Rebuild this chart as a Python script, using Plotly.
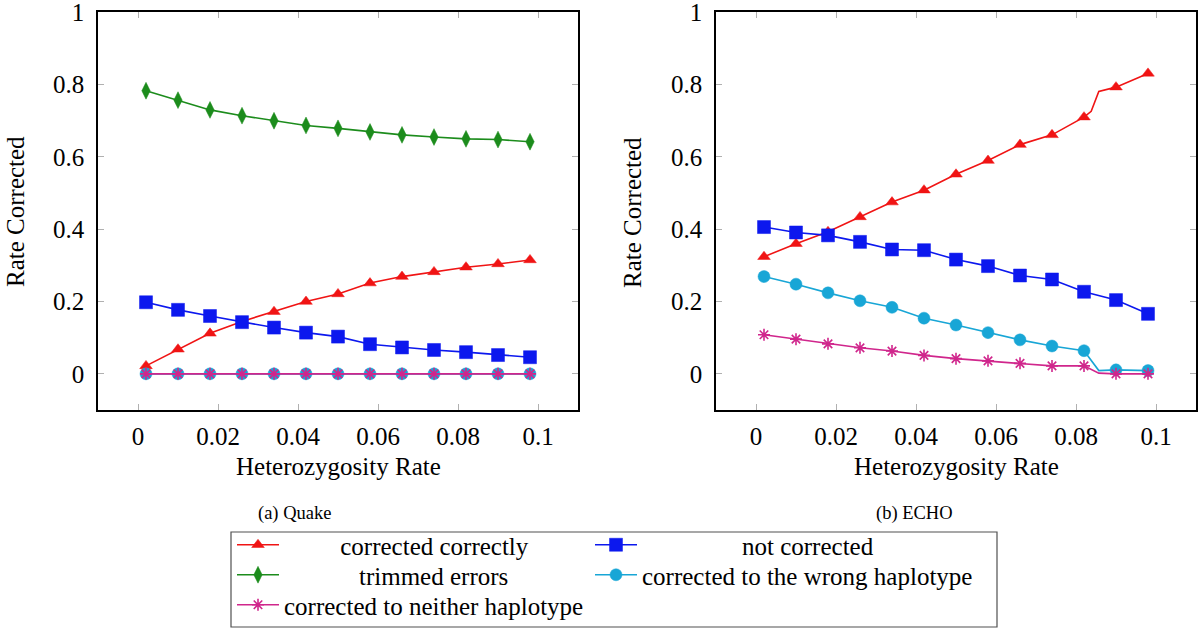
import plotly.graph_objects as go

# ---------------- data ----------------
het_rate = [0.002, 0.010, 0.018, 0.026, 0.034, 0.042, 0.050,
            0.058, 0.066, 0.074, 0.082, 0.090, 0.098]

# (a) Quake
quake_correct = [0.022, 0.068, 0.112, 0.145, 0.172, 0.200, 0.221,
                 0.251, 0.269, 0.282, 0.295, 0.304, 0.315]
quake_not_corrected = [0.198, 0.177, 0.160, 0.143, 0.128, 0.114, 0.103,
                       0.082, 0.073, 0.066, 0.060, 0.052, 0.046]
quake_trimmed = [0.783, 0.757, 0.730, 0.714, 0.700, 0.687, 0.679,
                 0.669, 0.661, 0.655, 0.650, 0.648, 0.642]
quake_wrong_hap = [0.0] * 13
quake_neither_hap = [0.0] * 13

# (b) ECHO
echo_correct = [0.324, 0.360, 0.393, 0.434, 0.475, 0.508, 0.552,
                0.590, 0.634, 0.661, 0.710, 0.793, 0.831]
echo_not_corrected = [0.406, 0.391, 0.383, 0.365, 0.344, 0.342, 0.316,
                      0.298, 0.272, 0.261, 0.227, 0.204, 0.166]
echo_wrong_hap = [0.269, 0.248, 0.224, 0.202, 0.184, 0.154, 0.135,
                  0.114, 0.094, 0.077, 0.064, 0.011, 0.009]
echo_neither_hap = [0.108, 0.096, 0.083, 0.072, 0.063, 0.051, 0.042,
                    0.036, 0.029, 0.022, 0.022, 0.0, 0.0]

# extra line vertices (sharp step near 0.086)
echo_correct_kink_x = [0.0838, 0.0857]
echo_correct_kink_y = [0.726, 0.781]
echo_wrong_hap_kink_x = [0.0857]
echo_wrong_hap_kink_y = [0.009]
echo_neither_hap_kink_x = [0.0857]
echo_neither_hap_kink_y = [0.002]

series_names = ["corrected correctly", "not corrected", "trimmed errors",
                "corrected to the wrong haplotype", "corrected to neither haplotype"]

x_ticks = [0, 0.02, 0.04, 0.06, 0.08, 0.1]
x_tick_text = ["0", "0.02", "0.04", "0.06", "0.08", "0.1"]
y_ticks = [0, 0.2, 0.4, 0.6, 0.8, 1]
y_tick_text = ["0", "0.2", "0.4", "0.6", "0.8", "1"]

# ---------------- styles ----------------
W, H = 1200, 631
FONT = "Liberation Serif"

RED = "#f01414"
BLUE = "#0c18ee"
GREEN = "#1c8c1c"
CYAN = "#18a6d6"
MAGENTA = "#d0268c"

styles = {
    "corrected correctly": dict(color=RED, symbol="triangle-up", size=11),
    "not corrected": dict(color=BLUE, symbol="square", size=13),
    "trimmed errors": dict(color=GREEN, symbol="diamond-tall", size=12),
    "corrected to the wrong haplotype": dict(color=CYAN, symbol="circle", size=12),
    "corrected to neither haplotype": dict(color=MAGENTA, symbol="asterisk-open", size=10),
}
# one legend per entry so each label sits in its own cell (col x px, row centre px, pad)
legend_cells = {
    "corrected correctly": ("legend", 232, 545, 9),
    "trimmed errors": ("legend2", 232, 575, 12),
    "corrected to neither haplotype": ("legend3", 232, 605, 0),
    "not corrected": ("legend4", 590, 545, 16),
    "corrected to the wrong haplotype": ("legend5", 590, 575, 0),
}


def marker_for(name):
    s = styles[name]
    m = dict(color=s["color"], symbol=s["symbol"], size=s["size"])
    if s["symbol"].endswith("open"):
        m["line"] = dict(color=s["color"], width=1.6)
    else:
        m["line"] = dict(color=s["color"], width=0.5)
    return m


fig = go.Figure()

quake_data = {
    "corrected correctly": quake_correct,
    "not corrected": quake_not_corrected,
    "trimmed errors": quake_trimmed,
    "corrected to the wrong haplotype": quake_wrong_hap,
    "corrected to neither haplotype": quake_neither_hap,
}
draw_order = ["trimmed errors", "corrected correctly", "not corrected",
              "corrected to the wrong haplotype", "corrected to neither haplotype"]

# ---- (a) Quake: lines+markers, these carry the legend ----
for name in draw_order:
    lg, _, _, pad = legend_cells[name]
    fig.add_trace(go.Scatter(
        x=het_rate, y=quake_data[name], mode="lines+markers",
        name="\u00a0" * pad + name,
        line=dict(color=styles[name]["color"], width=1.6),
        marker=marker_for(name),
        legend=lg,
        xaxis="x", yaxis="y",
    ))

# ---- (b) ECHO ----
echo_data = {
    "corrected correctly": (echo_correct, echo_correct_kink_x, echo_correct_kink_y),
    "not corrected": (echo_not_corrected, [], []),
    "corrected to the wrong haplotype": (echo_wrong_hap, echo_wrong_hap_kink_x, echo_wrong_hap_kink_y),
    "corrected to neither haplotype": (echo_neither_hap, echo_neither_hap_kink_x, echo_neither_hap_kink_y),
}
for name in draw_order:
    if name not in echo_data:
        continue
    ys, kx, ky = echo_data[name]
    pts = sorted(list(zip(het_rate, ys)) + list(zip(kx, ky)))
    fig.add_trace(go.Scatter(
        x=[p[0] for p in pts], y=[p[1] for p in pts], mode="lines",
        line=dict(color=styles[name]["color"], width=1.6),
        showlegend=False, hoverinfo="skip", xaxis="x2", yaxis="y2",
    ))
    fig.add_trace(go.Scatter(
        x=het_rate, y=ys, mode="markers", name=name,
        marker=marker_for(name), showlegend=False,
        xaxis="x2", yaxis="y2",
    ))


# ---------------- layout ----------------
def px_x(p):
    return p / W


def px_y(p):
    return 1 - p / H


axis_common = dict(
    showgrid=False, zeroline=False, showline=True, linecolor="black", linewidth=1.6,
    mirror="ticks", ticks="inside", ticklen=6, tickwidth=1, tickcolor="#b0b0b0",
    tickfont=dict(family=FONT, size=25, color="black"), automargin=False,
    ticklabeloverflow="allow",
)
xa = dict(axis_common, range=[-0.01, 0.11], tickvals=x_ticks, ticktext=x_tick_text,
          ticklabelstandoff=3)
ya = dict(axis_common, range=[-0.1, 1.0008], tickvals=y_ticks, ticktext=y_tick_text,
          ticklabelstandoff=7)

y_dom = [px_y(410), px_y(12)]
layout_kw = dict(
    width=W, height=H,
    margin=dict(l=0, r=0, t=0, b=0, autoexpand=False),
    paper_bgcolor="white", plot_bgcolor="white",
    xaxis=dict(xa, domain=[px_x(98), px_x(578)], anchor="y"),
    yaxis=dict(ya, domain=y_dom, anchor="x"),
    xaxis2=dict(xa, domain=[px_x(716), px_x(1196)], anchor="y2"),
    yaxis2=dict(ya, domain=y_dom, anchor="x2"),
    showlegend=True,
)
for name, (lg, lx, ly, _) in legend_cells.items():
    layout_kw[lg] = dict(x=px_x(lx), y=px_y(ly), xanchor="left", yanchor="middle",
                         orientation="v", bgcolor="rgba(0,0,0,0)", borderwidth=0,
                         font=dict(family=FONT, size=25, color="black"),
                         itemwidth=42, tracegroupgap=0)
fig.update_layout(**layout_kw)

# legend frame
fig.add_shape(type="rect", xref="paper", yref="paper",
              x0=px_x(231), x1=px_x(997), y0=px_y(627), y1=px_y(532),
              line=dict(color="#505050", width=1.2), fillcolor="rgba(0,0,0,0)")

ann_font = dict(family=FONT, size=25, color="black")
annotations = [
    dict(text="Heterozygosity Rate", x=px_x(338), y=px_y(466)),
    dict(text="Heterozygosity Rate", x=px_x(956), y=px_y(466)),
    dict(text="Rate Corrected", x=px_x(15), y=px_y(212), textangle=-90),
    dict(text="Rate Corrected", x=px_x(632), y=px_y(212), textangle=-90),
]
for a in annotations:
    fig.add_annotation(xref="paper", yref="paper", showarrow=False,
                       xanchor="center", yanchor="middle", font=ann_font, **a)

cap_font = dict(family=FONT, size=18.5, color="black")
fig.add_annotation(text="(a) Quake", x=px_x(294), y=px_y(513), xref="paper", yref="paper",
                   showarrow=False, xanchor="center", yanchor="middle", font=cap_font)
fig.add_annotation(text="(b) ECHO", x=px_x(914), y=px_y(513), xref="paper", yref="paper",
                   showarrow=False, xanchor="center", yanchor="middle", font=cap_font)

fig.write_html("out.html", config={"displayModeBar": False},
               post_script="document.body.style.margin='0';document.body.style.padding='0';")
